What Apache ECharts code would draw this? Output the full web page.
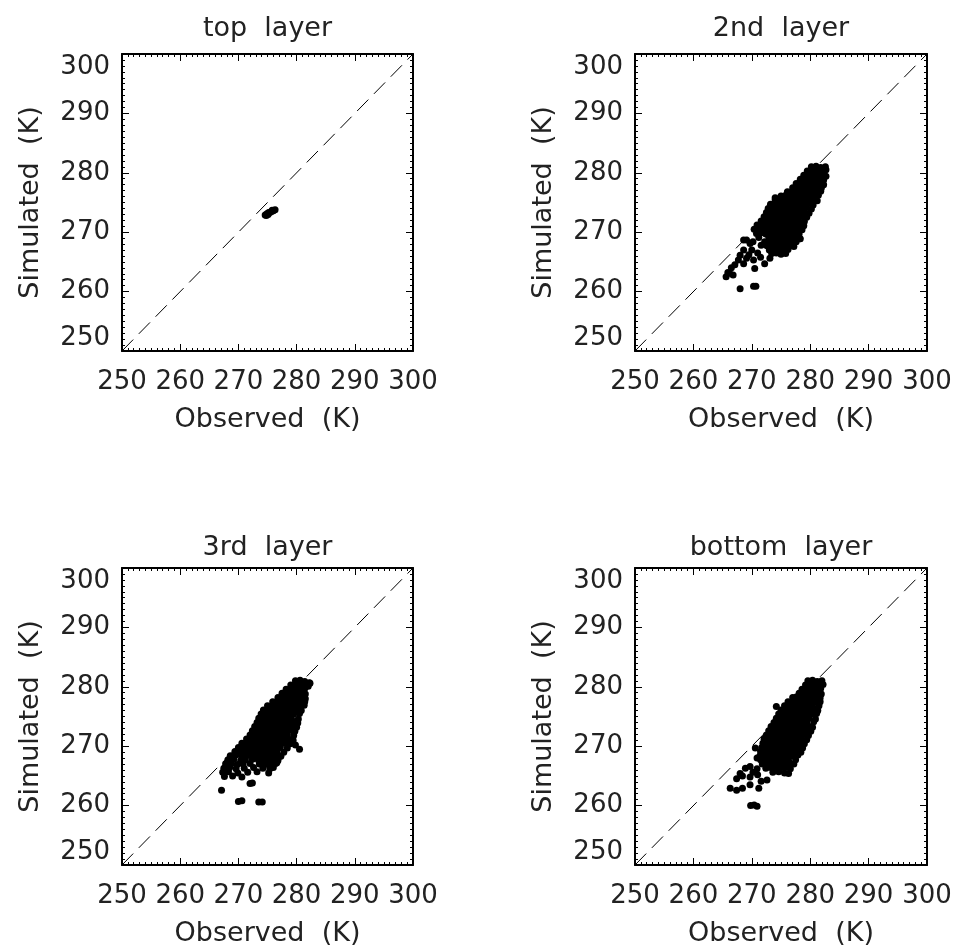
<!DOCTYPE html>
<html>
<head>
<meta charset="utf-8">
<title>layers</title>
<script src="https://cdn.jsdelivr.net/npm/echarts@6/dist/echarts.min.js"></script>
<style>
    html, body {margin: 0; padding: 0; background: #fff;}
    #chart {width: 957px; height: 949px;}
</style>
</head>
<body>
<div id="chart"></div>
<script>
const ticks = [250, 260, 270, 280, 290, 300];
const titles = ['top  layer', '2nd  layer', '3rd  layer', 'bottom  layer'];
const xName = 'Observed  (K)';
const yName = 'Simulated  (K)';
const oneToOne = [[250, 250], [300, 300]];

// [observed, simulated]
const topLayer = [
    [274.6, 272.9], [274.9, 273.1], [275.1, 273.0], [275.4, 273.3], [275.7, 273.5],
    [276.0, 273.6], [276.3, 273.8], [275.2, 273.3], [275.8, 273.7], [274.8, 272.8]
];

const layer2 = [
    [280.2, 281.0], [281.0, 281.1], [281.8, 280.9], [282.6, 281.0],
    [279.5, 280.3], [280.3, 280.4], [281.1, 280.2], [281.9, 280.3], [282.7, 280.5],
    [278.9, 279.6], [279.7, 279.7], [280.5, 279.5], [281.3, 279.6], [282.1, 279.7], [282.7, 279.4],
    [278.3, 278.9], [279.1, 279.0], [279.9, 278.8], [280.7, 278.9], [281.5, 279.0], [282.3, 278.8],
    [277.6, 278.2], [278.4, 278.3], [279.2, 278.1], [280.0, 278.2], [280.8, 278.3], [281.6, 278.2], [282.3, 278.0],
    [277.0, 277.5], [277.8, 277.6], [278.6, 277.4], [279.4, 277.5], [280.2, 277.6], [281.0, 277.5], [281.9, 277.4],
    [276.1, 276.8], [276.9, 276.9], [277.7, 276.7], [278.5, 276.8], [279.3, 276.9], [280.1, 276.8], [280.9, 276.7], [281.8, 276.9],
    [275.0, 276.1], [275.8, 276.2], [276.6, 276.0], [277.4, 276.1], [278.2, 276.2], [279.0, 276.1], [279.8, 276.0], [280.6, 276.1], [281.4, 276.2],
    [274.0, 275.4], [274.8, 275.5], [275.6, 275.3], [276.4, 275.4], [277.2, 275.5], [278.0, 275.4], [278.8, 275.3], [279.6, 275.4], [280.4, 275.5], [281.2, 275.3],
    [273.2, 274.7], [274.0, 274.8], [274.8, 274.6], [275.6, 274.7], [276.4, 274.8], [277.2, 274.7], [278.0, 274.6], [278.8, 274.7], [279.6, 274.8], [280.5, 274.6],
    [272.8, 274.0], [273.6, 274.1], [274.4, 273.9], [275.2, 274.0], [276.0, 274.1], [276.8, 274.0], [277.6, 273.9], [278.4, 274.0], [279.2, 274.1], [280.2, 273.9],
    [272.5, 273.3], [273.3, 273.4], [274.1, 273.2], [274.9, 273.3], [275.7, 273.4], [276.5, 273.3], [277.3, 273.2], [278.1, 273.3], [278.9, 273.4], [279.8, 273.2],
    [272.1, 272.6], [272.9, 272.7], [273.7, 272.5], [274.5, 272.6], [275.3, 272.7], [276.1, 272.6], [276.9, 272.5], [277.7, 272.6], [278.5, 272.7], [279.4, 272.5],
    [271.6, 271.9], [272.4, 272.0], [273.2, 271.8], [274.0, 271.9], [274.8, 272.0], [275.6, 271.9], [276.4, 271.8], [277.2, 271.9], [278.0, 272.0], [279.0, 271.8],
    [270.9, 271.2], [271.7, 271.3], [272.5, 271.1], [273.3, 271.2], [274.1, 271.3], [274.9, 271.2], [275.7, 271.1], [276.5, 271.2], [277.3, 271.3], [278.1, 271.2], [278.9, 271.1],
    [270.4, 270.5], [271.2, 270.6], [272.0, 270.4], [272.8, 270.5], [273.6, 270.6], [274.4, 270.5], [275.2, 270.4], [276.0, 270.5], [276.8, 270.6], [277.6, 270.5], [278.6, 270.4],
    [270.8, 269.8], [271.6, 269.9], [272.4, 269.7], [273.2, 269.8], [274.0, 269.9], [274.8, 269.8], [275.6, 269.7], [276.4, 269.8], [277.2, 269.9], [278.1, 269.7],
    [271.2, 269.1], [272.9, 269.2], [273.7, 269.0], [274.5, 269.1], [275.3, 269.2], [276.1, 269.1], [276.9, 269.0], [277.7, 269.1], [278.3, 268.9],
    [272.2, 268.4], [273.0, 268.5], [273.8, 268.3], [274.6, 268.4], [275.4, 268.5], [276.2, 268.4], [277.0, 268.3], [277.6, 268.4],
    [272.6, 267.7], [273.4, 267.8], [274.2, 267.6], [275.0, 267.7], [275.8, 267.8], [276.6, 267.7], [277.2, 267.6],
    [273.0, 267.0], [273.8, 267.1], [274.6, 266.9], [275.4, 267.0], [276.2, 267.1],
    [273.4, 266.4], [274.2, 266.5], [275.0, 266.3], [275.8, 266.4],
    [269.1, 268.7], [268.6, 268.7], [269.7, 268.1], [268.6, 267.0], [268.0, 266.1], [269.1, 265.6],
    [270.3, 265.3], [270.5, 263.9], [267.1, 264.5], [266.2, 263.1], [265.6, 262.5], [266.8, 262.8],
    [268.6, 264.7], [267.7, 265.3], [272.2, 264.7], [273.1, 265.6], [268.0, 260.5], [270.3, 260.9],
    [270.7, 260.9], [271.0, 266.5], [270.0, 267.0], [269.5, 266.2], [271.5, 265.8], [274.0, 275.8],
    [278.2, 268.9], [266.5, 264.0], [265.9, 263.2], [270.2, 268.4], [271.6, 267.8]
];

const layer3 = [
    [279.8, 281.0], [280.6, 281.1], [281.4, 280.9], [282.2, 280.7],
    [279.0, 280.3], [279.8, 280.4], [280.6, 280.2], [281.4, 280.3], [282.0, 280.1],
    [278.2, 279.6], [279.0, 279.7], [279.8, 279.5], [280.6, 279.6], [281.4, 279.7],
    [277.5, 278.9], [278.3, 279.0], [279.1, 278.8], [279.9, 278.9], [280.7, 279.0], [281.5, 278.8],
    [276.8, 278.2], [277.6, 278.3], [278.4, 278.1], [279.2, 278.2], [280.0, 278.3], [280.8, 278.2], [281.5, 278.0],
    [275.9, 277.5], [276.7, 277.6], [277.5, 277.4], [278.3, 277.5], [279.1, 277.6], [279.9, 277.5], [280.7, 277.4], [281.4, 277.5],
    [275.0, 276.8], [275.8, 276.9], [276.6, 276.7], [277.4, 276.8], [278.2, 276.9], [279.0, 276.8], [279.8, 276.7], [280.6, 276.8], [281.3, 276.9],
    [274.3, 276.1], [275.1, 276.2], [275.9, 276.0], [276.7, 276.1], [277.5, 276.2], [278.3, 276.1], [279.1, 276.0], [279.9, 276.1], [280.8, 276.0],
    [273.9, 275.4], [274.7, 275.5], [275.5, 275.3], [276.3, 275.4], [277.1, 275.5], [277.9, 275.4], [278.7, 275.3], [279.5, 275.4], [280.5, 275.5],
    [273.5, 274.7], [274.3, 274.8], [275.1, 274.6], [275.9, 274.7], [276.7, 274.8], [277.5, 274.7], [278.3, 274.6], [279.1, 274.7], [280.3, 274.6],
    [273.2, 274.0], [274.0, 274.1], [274.8, 273.9], [275.6, 274.0], [276.4, 274.1], [277.2, 274.0], [278.0, 273.9], [278.8, 274.0], [279.6, 274.1], [280.2, 273.9],
    [272.8, 273.3], [273.6, 273.4], [274.4, 273.2], [275.2, 273.3], [276.0, 273.4], [276.8, 273.3], [277.6, 273.2], [278.4, 273.3], [279.2, 273.4], [280.0, 273.2],
    [272.4, 272.6], [273.2, 272.7], [274.0, 272.5], [274.8, 272.6], [275.6, 272.7], [276.4, 272.6], [277.2, 272.5], [278.0, 272.6], [278.8, 272.7], [279.7, 272.5],
    [272.0, 271.9], [272.8, 272.0], [273.6, 271.8], [274.4, 271.9], [275.2, 272.0], [276.0, 271.9], [276.8, 271.8], [277.6, 271.9], [278.4, 272.0], [279.5, 271.8],
    [271.4, 271.2], [272.2, 271.3], [273.0, 271.1], [273.8, 271.2], [274.6, 271.3], [275.4, 271.2], [276.2, 271.1], [277.0, 271.2], [277.8, 271.3], [278.6, 271.2], [279.4, 271.0],
    [270.6, 270.5], [271.4, 270.6], [272.2, 270.4], [273.0, 270.5], [273.8, 270.6], [274.6, 270.5], [275.4, 270.4], [276.2, 270.5], [277.0, 270.6], [277.8, 270.5], [278.9, 270.4],
    [270.0, 269.8], [270.8, 269.9], [271.6, 269.7], [272.4, 269.8], [273.2, 269.9], [274.0, 269.8], [274.8, 269.7], [275.6, 269.8], [276.4, 269.9], [277.2, 269.8], [278.4, 269.7],
    [269.4, 269.1], [270.2, 269.2], [271.0, 269.0], [271.8, 269.1], [272.6, 269.2], [273.4, 269.1], [274.2, 269.0], [275.0, 269.1], [275.8, 269.2], [276.6, 269.1], [277.8, 269.0],
    [268.6, 268.4], [269.6, 268.5], [270.6, 268.3], [271.4, 268.4], [272.2, 268.5], [273.0, 268.4], [273.8, 268.3], [274.6, 268.4], [275.4, 268.5], [276.4, 268.4], [277.3, 268.3],
    [268.2, 267.7], [269.2, 267.8], [270.4, 267.6], [271.2, 267.7], [272.4, 267.8], [273.4, 267.7], [274.2, 267.6], [275.1, 267.7], [276.0, 267.8], [276.8, 267.6],
    [267.8, 267.0], [268.8, 267.1], [269.8, 266.9], [270.8, 267.0], [272.0, 267.1], [273.6, 267.0], [274.6, 266.9], [275.6, 267.0], [276.4, 267.1],
    [267.5, 266.3], [268.5, 266.4], [269.6, 266.2], [271.0, 266.3], [272.6, 266.4], [274.2, 266.3], [275.4, 266.2], [276.0, 266.4],
    [267.3, 265.6], [268.3, 265.7], [269.9, 265.5], [271.6, 265.6], [273.2, 265.7], [275.2, 265.5],
    [267.6, 264.9], [269.0, 265.0], [270.6, 264.8],
    [272.0, 263.7], [272.4, 263.8], [267.1, 262.6], [270.0, 260.7], [270.6, 260.8], [273.5, 260.6],
    [274.1, 260.6], [279.8, 270.2], [280.5, 269.5], [268.9, 268.3], [276.6, 267.2], [277.1, 268.3], [282.3, 280.6]
];

const bottomLayer = [
    [279.6, 281.0], [280.4, 281.1], [281.2, 280.9], [282.0, 281.0],
    [279.2, 280.3], [280.0, 280.4], [280.8, 280.2], [281.6, 280.3], [282.2, 280.4],
    [278.6, 279.6], [279.4, 279.7], [280.2, 279.5], [281.0, 279.6], [281.8, 279.7],
    [278.1, 278.9], [278.9, 279.0], [279.7, 278.8], [280.5, 278.9], [281.3, 279.0], [281.9, 278.8],
    [277.0, 278.2], [277.6, 278.3], [278.4, 278.1], [279.2, 278.2], [280.0, 278.3], [280.8, 278.2], [281.7, 278.1],
    [276.2, 277.5], [277.0, 277.6], [277.8, 277.4], [278.6, 277.5], [279.4, 277.6], [280.2, 277.5], [281.0, 277.4], [281.7, 277.5],
    [275.6, 276.8], [276.4, 276.9], [277.2, 276.7], [278.0, 276.8], [278.8, 276.9], [279.6, 276.8], [280.4, 276.7], [281.5, 276.8],
    [275.0, 276.1], [275.8, 276.2], [276.6, 276.0], [277.4, 276.1], [278.2, 276.2], [279.0, 276.1], [279.8, 276.0], [280.6, 276.1], [281.3, 276.0],
    [274.6, 275.4], [275.4, 275.5], [276.2, 275.3], [277.0, 275.4], [277.8, 275.5], [278.6, 275.4], [279.4, 275.3], [280.2, 275.4], [281.1, 275.5],
    [274.2, 274.7], [275.0, 274.8], [275.8, 274.6], [276.6, 274.7], [277.4, 274.8], [278.2, 274.7], [279.0, 274.6], [279.8, 274.7], [280.9, 274.6],
    [273.8, 274.0], [274.6, 274.1], [275.4, 273.9], [276.2, 274.0], [277.0, 274.1], [277.8, 274.0], [278.6, 273.9], [279.4, 274.0], [280.6, 274.1],
    [273.3, 273.3], [274.1, 273.4], [274.9, 273.2], [275.7, 273.3], [276.5, 273.4], [277.3, 273.3], [278.1, 273.2], [278.9, 273.3], [279.7, 273.4], [280.4, 273.2],
    [272.9, 272.6], [273.7, 272.7], [274.5, 272.5], [275.3, 272.6], [276.1, 272.7], [276.9, 272.6], [277.7, 272.5], [278.5, 272.6], [279.3, 272.7], [280.1, 272.5],
    [272.5, 271.9], [273.3, 272.0], [274.1, 271.8], [274.9, 271.9], [275.7, 272.0], [276.5, 271.9], [277.3, 271.8], [278.1, 271.9], [278.9, 272.0], [279.7, 271.8],
    [272.1, 271.2], [272.9, 271.3], [273.7, 271.1], [274.5, 271.2], [275.3, 271.3], [276.1, 271.2], [276.9, 271.1], [277.7, 271.2], [278.5, 271.3], [279.4, 271.1],
    [271.9, 270.5], [272.7, 270.6], [273.5, 270.4], [274.3, 270.5], [275.1, 270.6], [275.9, 270.5], [276.7, 270.4], [277.5, 270.5], [278.3, 270.6], [279.0, 270.4],
    [271.7, 269.8], [272.5, 269.9], [273.3, 269.7], [274.1, 269.8], [274.9, 269.9], [275.7, 269.8], [276.5, 269.7], [277.3, 269.8], [278.0, 269.9], [278.7, 269.7],
    [271.5, 269.1], [272.3, 269.2], [273.1, 269.0], [273.9, 269.1], [274.7, 269.2], [275.5, 269.1], [276.3, 269.0], [277.1, 269.1], [277.8, 269.2], [278.4, 269.0],
    [271.4, 268.4], [272.2, 268.5], [273.0, 268.3], [273.8, 268.4], [274.6, 268.5], [275.4, 268.4], [276.2, 268.3], [277.0, 268.4], [277.9, 268.5],
    [271.5, 267.7], [272.3, 267.8], [273.1, 267.6], [273.9, 267.7], [274.7, 267.8], [275.5, 267.7], [276.3, 267.6], [277.5, 267.7],
    [271.8, 267.0], [272.6, 267.1], [273.4, 266.9], [274.2, 267.0], [275.0, 267.1], [275.8, 267.0], [276.6, 266.9], [277.2, 267.0],
    [272.4, 266.3], [273.2, 266.4], [274.0, 266.2], [274.8, 266.3], [275.6, 266.4], [276.6, 266.2],
    [273.6, 265.6], [274.6, 265.7], [275.6, 265.5], [276.3, 265.4],
    [270.6, 269.7], [270.9, 268.0], [269.7, 266.6], [268.9, 266.3], [268.0, 265.4], [267.4, 264.5],
    [268.4, 265.0], [269.7, 264.8], [270.2, 265.6], [270.9, 266.2], [271.0, 265.2], [266.3, 262.9],
    [267.4, 262.6], [268.4, 262.9], [269.7, 263.5], [271.2, 262.9], [269.8, 260.0], [270.4, 260.1],
    [270.9, 259.9], [272.6, 264.3], [271.6, 264.1], [274.2, 276.7]
];

const layers = [topLayer, layer2, layer3, bottomLayer];

!function () {
    const grids = [
        {left: 122, top: 54, width: 291, height: 297},
        {left: 635, top: 54, width: 292, height: 297},
        {left: 122, top: 568, width: 291, height: 297},
        {left: 635, top: 568, width: 292, height: 297}
    ];
    const font = {fontFamily: 'DejaVu Sans', fontSize: 26, color: '#222'};
    const nameFont = {fontFamily: 'DejaVu Sans', fontSize: 27, color: '#222'};

    function axis(i, pos) {
        const labelled = pos === 'bottom' || pos === 'left';
        return {
            gridIndex: i, type: 'value', position: pos,
            min: ticks[0], max: ticks[ticks.length - 1], interval: ticks[1] - ticks[0],
            axisLine: {show: true, onZero: false, lineStyle: {color: '#000', width: 2}},
            axisTick: {show: true, inside: true, length: 7, lineStyle: {color: '#000', width: 1}},
            minorTick: {show: true, splitNumber: 10, length: 3, lineStyle: {color: '#000', width: 1}},
            splitLine: {show: false},
            minorSplitLine: {show: false},
            axisLabel: labelled ? Object.assign({show: true}, font) : {show: false}
        };
    }

    const xAxis = [], yAxis = [], series = [];
    grids.forEach((g, i) => {
        const xb = axis(i, 'bottom');
        xb.axisLabel.margin = 18;
        Object.assign(xb, {name: xName, nameLocation: 'middle', nameGap: 55, nameTextStyle: nameFont});
        // 标题放在上方的 x 轴名称上
        const xt = axis(i, 'top');
        Object.assign(xt, {name: titles[i], nameLocation: 'middle', nameGap: i < 2 ? 12 : 7, nameTextStyle: nameFont});
        const yl = axis(i, 'left');
        yl.axisLabel.margin = 12;
        yl.axisLabel.verticalAlignMinLabel = 'bottom';
        yl.axisLabel.verticalAlignMaxLabel = 'top';
        Object.assign(yl, {name: yName, nameLocation: 'middle', nameGap: 78, nameRotate: 90, nameTextStyle: nameFont});
        const yr = axis(i, 'right');
        xAxis.push(xb, xt);
        yAxis.push(yl, yr);

        series.push({
            type: 'line', xAxisIndex: 2 * i, yAxisIndex: 2 * i,
            data: oneToOne, showSymbol: false, silent: true, z: 1,
            lineStyle: {color: '#000', width: 1, type: [16, 8]}
        });
        series.push({
            type: 'scatter', xAxisIndex: 2 * i, yAxisIndex: 2 * i,
            data: layers[i], symbolSize: 7, silent: true, z: 2,
            itemStyle: {color: '#000', opacity: 1}
        });
    });

    const chart = echarts.init(document.getElementById('chart'), null, {renderer: 'canvas'});
    chart.setOption({
        animation: false,
        backgroundColor: '#fff',
        grid: grids,
        xAxis, yAxis, series
    });
}();
</script>
</body>
</html>
